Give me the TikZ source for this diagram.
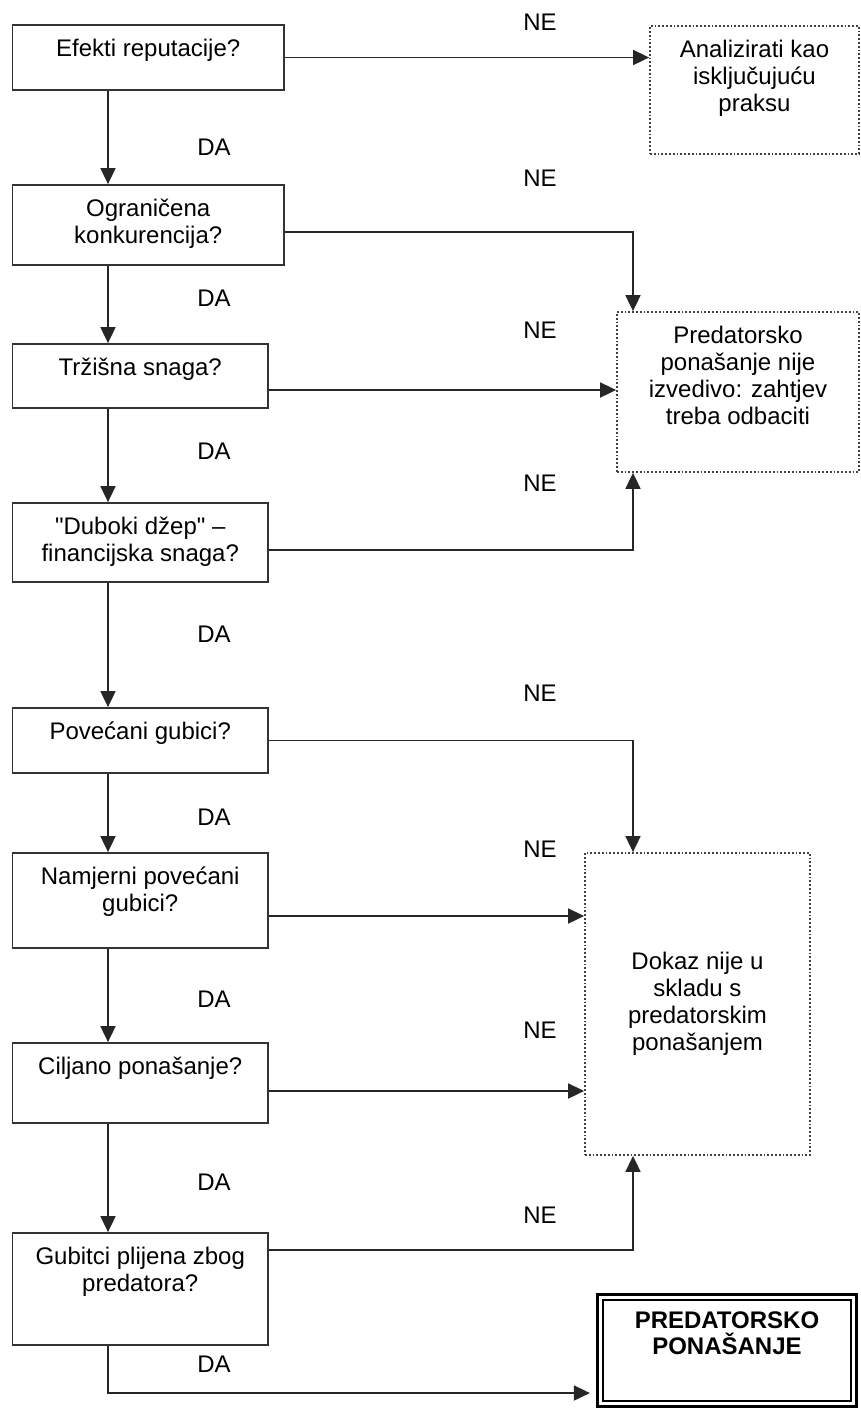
\documentclass[tikz,border=0pt]{standalone}
\usepackage{fontspec}
\setmainfont{Liberation Sans}[Ligatures=TeXOff]
\usetikzlibrary{arrows.meta}
\newcommand{\toptext}[3]{\parbox[c][#2][t]{#1}{\centering #3}}

\begin{document}
\begin{tikzpicture}[x=0.5pt, y=-0.5pt,
        question/.style={draw=black!80, line width=0.9pt, minimum width=127.75pt, inner sep=7pt, font=\fontsize{12}{13.5}\selectfont},
        widequestion/.style={question, minimum width=135.75pt},
        outcome/.style={draw=black!75, densely dotted, line width=0.9pt, inner sep=7pt, align=center, font=\fontsize{12}{13.5}\selectfont},
        verdict/.style={draw=black, double=white, line width=1.3pt, double distance=1.6pt, minimum width=126.8pt, inner sep=7pt, font=\fontsize{12}{13}\selectfont\bfseries},
        answer/.style={font=\fontsize{12}{13.5}\selectfont},
        flow/.style={-{Triangle[length=8pt, width=7.5pt]}, line width=0.9pt, black!85}
    ]
        \useasboundingbox (0,0) rectangle (861,1410);

        \node[widequestion] (q1) at (148.25,57.5) {\toptext{112pt}{18.5pt}{Efekti reputacije?}};
        \node[widequestion] (q2) at (148.25,225) {\toptext{112pt}{26pt}{Ograničena\\konkurencija?}};
        \node[question] (q3) at (140.25,376) {\toptext{112pt}{18pt}{Tržišna snaga?}};
        \node[question] (q4) at (140.25,542.5) {\toptext{112pt}{25.5pt}{"Duboki džep" –\\financijska snaga?}};
        \node[question] (q5) at (140.25,740.5) {\toptext{112pt}{18.5pt}{Povećani gubici?}};
        \node[question] (q6) at (140.25,900.5) {\toptext{112pt}{33.5pt}{Namjerni povećani\\gubici?}};
        \node[question] (q7) at (140.25,1083) {\toptext{112pt}{26pt}{Ciljano ponašanje?}};
        \node[question] (q8) at (140.25,1289) {\toptext{112pt}{42pt}{Gubitci plijena zbog\\predatora?}};

        \node[outcome, minimum width=104.5pt] (analiza) at (754.5,90) {\toptext{88pt}{50pt}{Analizirati kao\\isključujuću\\praksu}};
        \node[outcome, minimum width=121pt] (odbaciti) at (738,392) {\toptext{106pt}{66pt}{Predatorsko\\ponašanje nije\\izvedivo: zahtjev\\treba odbaciti}};
        \node[outcome, minimum width=112.5pt, minimum height=151pt] (dokaz) at (697.5,1004) {Dokaz nije u\\skladu s\\predatorskim\\ponašanjem};
        \node[verdict] (predator) at (727,1350.5) {\toptext{110pt}{39.3pt}{\vspace{0.5pt}PREDATORSKO\\PONAŠANJE}};

        % DA / NE labels
        \node[answer] (da1) at (214,147) {DA};
        \node[answer] (da2) at (214,298) {DA};
        \node[answer] (da3) at (214,451) {DA};
        \node[answer] (da4) at (214,634) {DA};
        \node[answer] (da5) at (214,817) {DA};
        \node[answer] (da6) at (214,999) {DA};
        \node[answer] (da7) at (214,1182) {DA};
        \node[answer] (da8) at (214,1364) {DA};
        \node[answer] (ne1) at (540,22) {NE};
        \node[answer] (ne2) at (540,178) {NE};
        \node[answer] (ne3) at (540,330) {NE};
        \node[answer] (ne4) at (540,483) {NE};
        \node[answer] (ne5) at (540,693) {NE};
        \node[answer] (ne6) at (540,849) {NE};
        \node[answer] (ne7) at (540,1030) {NE};
        \node[answer] (ne8) at (540,1215) {NE};

        \coordinate (spine) at (108,0);
        \coordinate (drop) at (633,0);
        \coordinate (e2) at ([yshift=-3.5pt]q2.east);
        \coordinate (e3) at ([yshift=-7pt]q3.east);
        \coordinate (e4) at ([yshift=-3.75pt]q4.east);
        \coordinate (e6) at ([yshift=-7.75pt]q6.east);
        \coordinate (e7) at ([yshift=-4pt]q7.east);
        \coordinate (e8) at ([yshift=19.5pt]q8.east);
        \coordinate (e9) at ([xshift=-4.5pt, yshift=-21.25pt]predator.west);

        \draw[flow] (q1.south -| spine) -- (q2.north -| spine);
        \draw[flow] (q2.south -| spine) -- (q3.north -| spine);
        \draw[flow] (q3.south -| spine) -- (q4.north -| spine);
        \draw[flow] (q4.south -| spine) -- (q5.north -| spine);
        \draw[flow] (q5.south -| spine) -- (q6.north -| spine);
        \draw[flow] (q6.south -| spine) -- (q7.north -| spine);
        \draw[flow] (q7.south -| spine) -- (q8.north -| spine);
        \draw[flow] (q8.south -| spine) |- (e9);

        \draw[flow] (q1.east) -- (q1.east -| analiza.west);
        \draw[flow] (e2) -| (drop |- odbaciti.north);
        \draw[flow] (e3) -- (e3 -| odbaciti.west);
        \draw[flow] (e4) -| (drop |- odbaciti.south);
        \draw[flow] (q5.east) -| (drop |- dokaz.north);
        \draw[flow] (e6) -- (e6 -| dokaz.west);
        \draw[flow] (e7) -- (e7 -| dokaz.west);
        \draw[flow] (e8) -| (drop |- dokaz.south);
    \end{tikzpicture}
\end{document}
